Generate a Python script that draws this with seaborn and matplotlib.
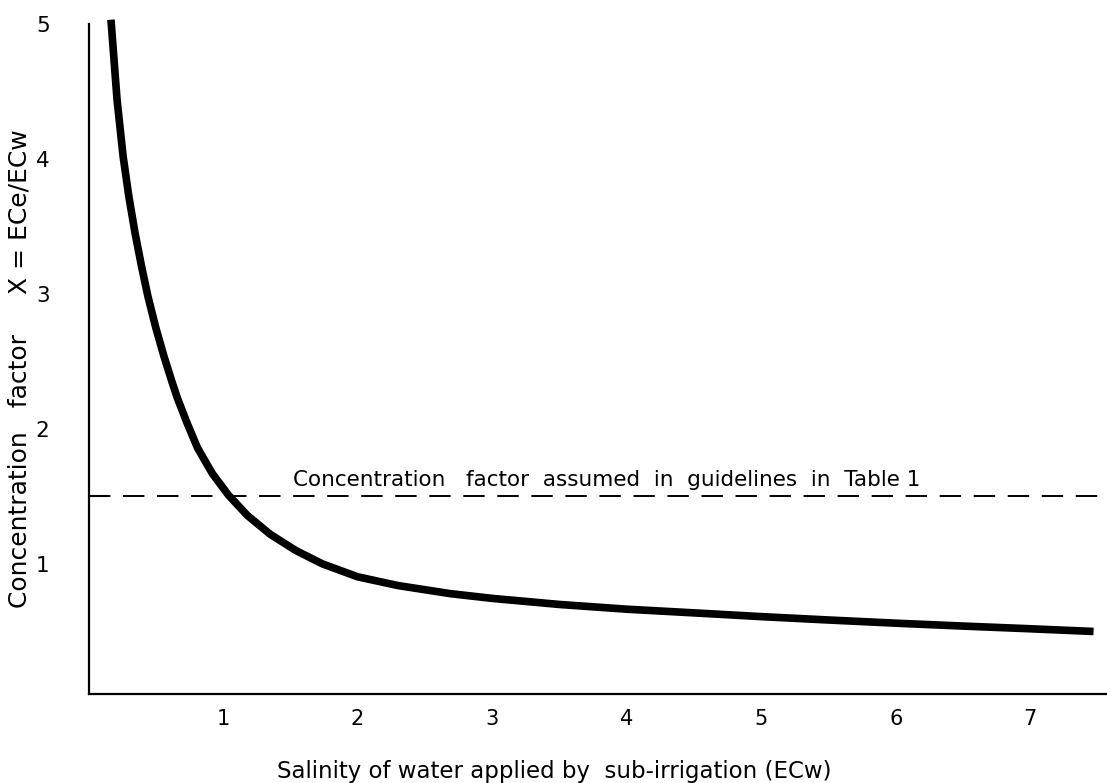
import matplotlib
matplotlib.use("Agg")
import matplotlib.pyplot as plt
import seaborn as sns
import pandas as pd

# Data
ecw = [0.167, 0.212, 0.257, 0.30, 0.346, 0.395, 0.442, 0.50, 0.56, 0.62, 0.66,
       0.73, 0.81, 0.92, 1.04, 1.18, 1.35, 1.54, 1.74, 2.0, 2.3, 2.69, 3.0, 3.5, 4.0,
       4.55, 5.0, 5.5, 6.03, 6.5, 7.0, 7.47]
conc_factor = [5.03, 4.44, 4.02, 3.72, 3.45, 3.20, 2.98, 2.75, 2.54, 2.35, 2.23,
               2.05, 1.86, 1.67, 1.51, 1.36, 1.22, 1.10, 1.00, 0.905, 0.84, 0.78, 0.745, 0.70, 0.665,
               0.635, 0.61, 0.585, 0.56, 0.54, 0.52, 0.50]
guideline_factor = 1.5
guideline_text = "Concentration   factor  assumed  in  guidelines  in  Table 1"
x_ticks = [1, 2, 3, 4, 5, 6, 7]
y_ticks = [1, 2, 3, 4, 5]
x_label = "Salinity of water applied by  sub-irrigation (ECw)"
y_label = "Concentration   factor     X = ECe/ECw"

sns.set_theme(style="white")
plt.rcParams['font.family'] = ['DejaVu Sans']

df = pd.DataFrame({"ECw": ecw, "X": conc_factor})

fig = plt.figure(figsize=(11.07, 7.83), dpi=100)
ax = fig.add_axes([88.5 / 1107, 89 / 783, 1 - 88.5 / 1107, (694 - 17) / 783])

sns.lineplot(data=df, x="ECw", y="X", ax=ax, color="black", linewidth=5.5,
             solid_capstyle="butt", solid_joinstyle="round", clip_on=False)
ax.axhline(guideline_factor, color="black", linewidth=1.4, dashes=(11, 6.5))
ax.text(1.52, 1.575, guideline_text, fontsize=15.5, color="black", va="baseline", ha="left")

ax.set_xlim(0, 7.57)
ax.set_ylim(0.037, 5.05)

for s in ["top", "right"]:
    ax.spines[s].set_visible(False)
for s in ["left", "bottom"]:
    ax.spines[s].set_color("black")
    ax.spines[s].set_linewidth(1.6)
ax.spines["left"].set_bounds(0.037, 5)

ax.set_xticks(x_ticks)
ax.set_xticklabels([str(t) for t in x_ticks])
ax.set_yticks(y_ticks)
ax.set_yticklabels([str(t) for t in y_ticks], fontweight="medium")
ax.set_yticks([guideline_factor], minor=True)
ax.tick_params(axis="x", direction="in", length=9, width=1.5, pad=11, labelsize=15, colors="black")
ax.tick_params(axis="y", direction="in", length=11, width=1.5, pad=28, labelsize=15.5, colors="black")
ax.tick_params(axis="y", which="minor", direction="in", length=15, width=1.5, left=True)

ax.set_xlabel(x_label, fontsize=16.5, color="black")
ax.set_ylabel(y_label, fontsize=18, color="black")
ax.xaxis.set_label_coords(0.457, -0.097)
ax.yaxis.set_label_coords(-0.0555, 0.48)
ax.grid(False)

fig.savefig("out.png", dpi=100)
